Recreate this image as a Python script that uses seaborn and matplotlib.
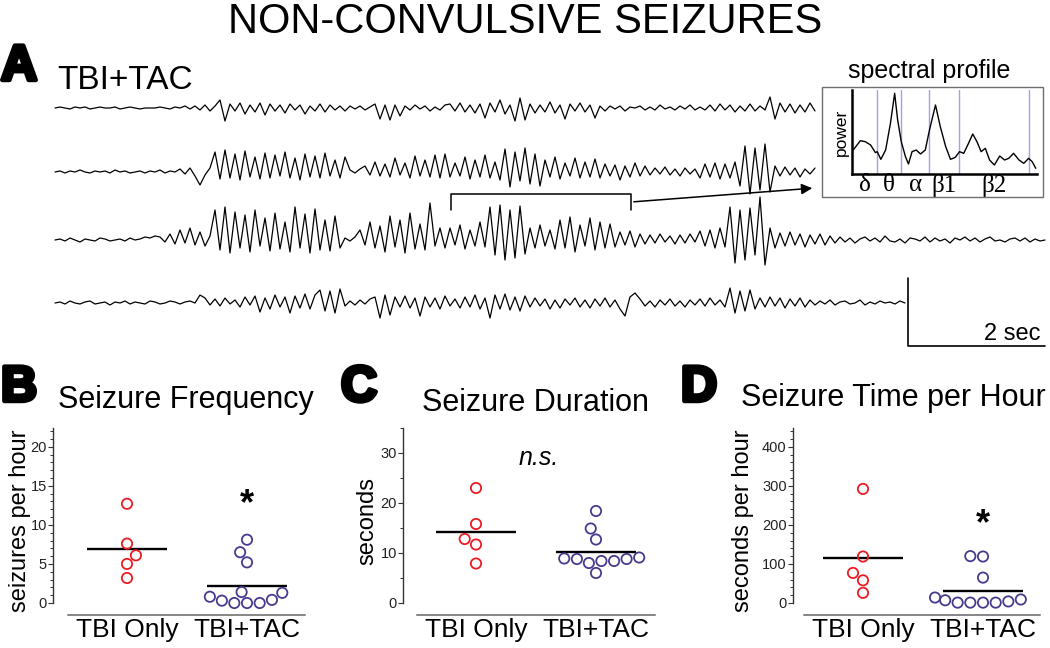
import numpy as np
import pandas as pd
import matplotlib
matplotlib.use("Agg")
import matplotlib.pyplot as plt
import seaborn as sns
from matplotlib.patches import Rectangle
from matplotlib.collections import PathCollection
from matplotlib.ticker import MultipleLocator
import matplotlib.patheffects as pe

# ---------------- data ----------------
groups = ["TBI Only", "TBI+TAC"]
group_colors = {"TBI Only": "#ec1c24", "TBI+TAC": "#4a3a8e"}

freq_tbi = [12.7, 7.6, 6.1, 5.0, 3.2]
freq_tac = [8.1, 6.5, 5.2, 1.4, 1.3, 0.8, 0.4, 0.3, 0.0, 0.0, 0.0]
dur_tbi = [23.0, 15.8, 12.8, 11.7, 7.9]
dur_tac = [18.4, 14.9, 12.7, 9.1, 8.9, 8.8, 8.8, 8.4, 8.4, 8.0, 6.0]
tph_tbi = [292, 119, 77, 58, 26]
tph_tac = [120, 119, 65, 14, 9, 7, 4, 1, 1, 1, 1]

spec_freq = [0.2, 1.4, 2.2, 3.1, 3.9, 4.2, 4.8, 5.6, 6.4, 7.1, 7.6, 8.2, 8.9, 9.4,
             10.0, 10.7, 11.4, 12.2, 12.9, 13.9, 14.7, 15.6, 16.4, 17.2, 17.9, 18.6,
             19.4, 20.1, 20.8, 21.5, 22.2, 22.9, 23.7, 24.6, 25.4, 26.1, 26.9, 27.8,
             28.6, 29.4, 30.0, 30.6]
spec_power = [72, 100, 97, 87, 64, 67, 44, 72, 152, 242, 162, 97, 52, 30, 67, 72, 60,
              72, 132, 207, 142, 82, 44, 50, 67, 62, 92, 120, 97, 67, 77, 42, 27, 54,
              42, 47, 62, 42, 32, 47, 37, 17]
band_edges = [0.0, 4.2, 8.2, 12.9, 17.8, 29.4]
band_labels = ["δ", "θ", "α", "β1", "β2"]

eeg_fs = 13.7  # samples per second
trace1 = [0, 1, 0, -1, 1, 0, 1, -1, 0, 1, 0, 0, 1, -1, 0, 1, 0, -1, 0, 0, 0, 1, 0, -1, 1, 0, 2, -1,
          2, -2, 3, -3, 2,
          8, -13,
          4, -3, 5, -6, 3, -4, 5, -7, 4, -3, 3, -5, 4, -2, 3, -6, 2, -3, 4, -4, 3, -2, 2, -3,
          2, -1, 2, -2, 1,
          4, -11, 3, -12, 3, -8,
          2, -2, 3, -1, 2, -3, 1, -2, 3,
          4, -3, 5, -4, 3, -5, 4, -10,
          5, -4, 8, -6, 3, -13, 10, -12, 4, -5, 3, -4, 6, -5, 3, -11, 4, -3, 5, -4, 3, -10, 2, -3,
          2, -1, 2, -3, 1, 0, 2, -2, 1, -2, 3, -1, 1, -2, 2, -1, 3, -2, 1, -2,
          3, -3, 4, -2, 3, -4, 2, -3, 4, -3, 2, -2,
          11, -11,
          5, -4, 4, -5, 3, -4, 5, -3]
trace2 = [0, 1, -1, 1, 0, 2, 0, -1, 1, 0, 1, -1, 2, 0, 1, -1, 0, 1, -1, 1, 0, 2, -1, 1, 0,
          3, -2, 4, -4, -13,
          -3, 4,
          20, -7, 22, -6, 18, -8, 21, -5, 15, -7, 19, -6, 17, -4, 20, -6, 14, -8, 18, -5, 16, -6, 19, -4, 12, -6, 15,
          2, -1, 3,
          6, -3, 10, -4, 8, -5, 14, -3, 9, -6, 16, -4, 12, -5, 17,
          -6, 18, -5, 9, -4, 15, -7, 12, -5, 17, -6, 10,
          -8, 23, -15, 20, -9, 24, -12, 18, -14,
          12, -5, 15, -7, 9, -4, 14, -6, 10, -5, 13,
          -6, 8, -4, 7, -8, 6, -5, 9, -4, 6,
          -3, 4, -2, 5, -3, 3, -4, 4, -2, 3,
          -6, 8, -5, 9, -7, 8, -6, 10,
          -14, 26, -22, 24, -18, 28,
          -20, 6, -4, 5, -3, 4, -5, 3, -2, 4]
trace3 = [0, 1, -1, 2, 0, -2, 1, 0, -1, 2, 1, -1, 0, 1, -1, 2, 0, 1, 3, 2, 4, 3,
          -2, 6, -4, 10, -3, 12, -5, 8, -6, 4,
          30, -10, 33, -13, 28, -8, 25, -12, 30, -6, 22, -11, 27, -9, 18, -12, 33, -8, 26, -13, 31, -10, 20, -11, 24, -8,
          2, -1, 3,
          10, -5, 18, -8, 14, -12, 24, -7, 20, -13, 27, -9,
          16, -10, 37, -6, 12,
          -8, 12, -5, 15, -9, 10, -6, 18, -7,
          33, -15, 35, -20, 30, -18, 34, -14,
          12, -8, 15, -6, 10, -9,
          20, -8, 23, -12, 15, -6, 22, -10, 18, -8, 16, -7,
          8, -5, 9, -7, 6, -4,
          5, -3, 6, -2, 4, -4, 5, -3, 6, -2,
          9, -6, 10, -8, 12, -7,
          33, -23, 30, -20, 32, -15,
          43, -25, 12,
          -8, 7, -6, 8, -5, 6, -7, 5, -4, 6, -5, 4, -3,
          3, -2, 2, -3, 1, 3, -1, 2, -2, 4, -1, -2, 1, -3, 2, 1, -1, 3, -2, 2, -1, 1, -3, 2, 0, 3,
          -1, 2, -2, 1, 3, -1, 0, -2, 1, 2, -1, 2, -2, 1, -1, 0]
trace4 = [0, 1, -1, 2, 0, -1, 1, 2, -1, 0, 1, -2, 1, 0, 2, -1, 1, 0, -1, 2, 1, -1, 0, 2, 1, -1, 1, 2, 0,
          8, 5,
          -2, 4, -3, 5, -1, 3, -4, 6, -2,
          7, -9, 5, -6, 8, -4, 6, -10, 7, -5, 9, -6, 8,
          13, -8, 12, -10, 14,
          -3, 2, -2, 3, -1, 4,
          6, -15, 8, -12,
          6, -4, 7, -5, 5, -13, 6, -4, 5, -6, 7, -3, 4, -5, 6, -4, 8, -6, 5,
          -15, 8, -6, 9, -7, 6, -8, 7,
          -4, 5, -3, 4, -6, 3, -5, 4, -2, 5, -4, 3, -5, 4, -3, 5, -4, 3, -6, -13,
          6, 10, 4, -3, 2, -4,
          3, -2, 4, -3, 2, -4, 3, -2, 4, -3, 5, -2, 3, -4,
          15, -10, 12, -8, 13, -6,
          5, -4, 6, -3, 5, -5, 4, -3, 5, -4, 3, -2,
          2, -1, 3, -2, 1, 2, -1, 0, 3, -2, 1, -1, 2, 0, 1, -1, 2, 0]
traces = [trace1, trace2, trace3, trace4]

# ---------------- layout ----------------
W, H = 1050, 648
sns.set_theme(style="white")
plt.rcParams["font.family"] = ["Liberation Sans", "DejaVu Sans"]
plt.rcParams["text.color"] = "black"
plt.rcParams["axes.labelcolor"] = "black"
plt.rcParams["xtick.color"] = "black"
plt.rcParams["ytick.color"] = "black"

fig = plt.figure(figsize=(W / 100, H / 100), dpi=100)
fig.patch.set_facecolor("white")


def fx(px):
    return px / W


def fy(py):
    return 1 - py / H


# ---- panel A: EEG traces in a full-figure axes (x in seconds, y in pixels) ----
px_per_sec = 68.5
t0_px = 55
axA = fig.add_axes([0, 0, 1, 1], zorder=0)
axA.set_xlim(-t0_px / px_per_sec, (W - t0_px) / px_per_sec)
axA.set_ylim(H, 0)
axA.axis("off")
row_base = [108, 172, 240, 303]
for tr, base in zip(traces, row_base):
    t = np.arange(len(tr)) / eeg_fs
    y = base - np.asarray(tr, dtype=float)
    sns.lineplot(x=t, y=y, ax=axA, color="black", lw=0.9, sort=False, estimator=None)

# bracket + arrow to spectral profile
b0, b1 = (451 - t0_px) / px_per_sec, (631 - t0_px) / px_per_sec
axA.plot([b0, b0, b1, b1], [210, 194, 194, 210], color="black", lw=1.1)
axA.annotate("", xy=((815 - t0_px) / px_per_sec, 188), xytext=(b1, 202),
             arrowprops=dict(arrowstyle="-|>", color="black", lw=1.1, mutation_scale=16))

# 2 sec scale bar
s0 = (908 - t0_px) / px_per_sec
axA.plot([s0, s0, s0 + 2], [278, 346, 346], color="black", lw=1.2)
axA.text(s0 + 1.93, 340, "2 sec", ha="right", va="baseline", fontsize=17, color="black")

# texts
fig.text(fx(525), fy(33), "NON-CONVULSIVE SEIZURES", ha="center", va="baseline", fontsize=30,
         color="black")
heavy = [pe.withStroke(linewidth=3.2, foreground="black")]
for letter, x, yb in [("A", 1, 80), ("B", 1, 401), ("C", 341, 401), ("D", 681, 401)]:
    fig.text(fx(x), fy(yb), letter, ha="left", va="baseline", fontsize=36,
             fontweight="bold", color="black", path_effects=heavy)
fig.text(fx(57), fy(89), "TBI+TAC", ha="left", va="baseline", fontsize=24, color="black")

# ---- spectral profile inset ----
fig.add_artist(Rectangle((fx(822), fy(197)), (1043 - 822) / W, (197 - 87) / H,
                         transform=fig.transFigure, fill=False, ec="#6e6e6e", lw=1))
fig.text(fx(929), fy(78), "spectral profile", ha="center", va="baseline", fontsize=18,
         color="black")
axI = fig.add_axes([fx(852), fy(174), (1037 - 852) / W, (174 - 90) / H])
sns.lineplot(x=spec_freq, y=spec_power, ax=axI, color="black", lw=1.0, sort=False, estimator=None)
for e in band_edges[1:]:
    axI.axvline(e, color="#a99de3", lw=1.0, zorder=0)
axI.set_xlim(0, 30.8)
axI.set_ylim(0, 252)
for s in ["top", "right"]:
    axI.spines[s].set_visible(False)
for s in ["left", "bottom"]:
    axI.spines[s].set_color("black")
    axI.spines[s].set_linewidth(1.8)
centers = [(a + b) / 2 for a, b in zip(band_edges[:-1], band_edges[1:])]
axI.set_xticks(centers)
axI.set_xticklabels(band_labels, fontfamily=["Liberation Serif", "DejaVu Serif"], fontsize=18)
axI.tick_params(axis="x", length=0, pad=0)
axI.set_yticks([])
axI.set_ylabel("power", fontsize=12.5, labelpad=2)
axI.set_xlabel("")
axI.patch.set_alpha(0)


# ---- panels B, C, D ----
def dot_panel(left, right, cat0, ytop, major, minor, tbi, tac, ylabel, ylab_x, title, title_x, title_y):
    ax = fig.add_axes([fx(left), fy(603), (right - left) / W, (603 - 428) / H], zorder=2)
    df = pd.DataFrame({"group": [groups[0]] * len(tbi) + [groups[1]] * len(tac),
                       "value": list(tbi) + list(tac)})
    sns.swarmplot(data=df, x="group", y="value", hue="group", order=groups,
                  palette=group_colors, size=7.4, linewidth=1.3, ax=ax, legend=False)
    for coll in ax.collections:
        if isinstance(coll, PathCollection):
            fc = coll.get_facecolors()
            coll.set_edgecolors(fc)
            coll.set_facecolors("none")
            coll.set_linewidth(1.3)
            coll.set_clip_on(False)
            coll.set_zorder(3)
    for i, vals in enumerate([tbi, tac]):
        ax.hlines(np.mean(vals), i - 0.33, i + 0.33, color="black", lw=1.7, zorder=2)
    spacing = 120
    xl = -(cat0 - left) / spacing
    xr = 1 + (right - (cat0 + spacing)) / spacing
    ax.set_xlim(xl, xr)
    ax.set_ylim(0, ytop)
    ax.set_yticks(np.arange(0, ytop, major))
    ax.yaxis.set_minor_locator(MultipleLocator(minor))
    for s in ["top", "right"]:
        ax.spines[s].set_visible(False)
    ax.spines["left"].set_color("#333333")
    ax.spines["left"].set_linewidth(1.0)
    ax.spines["bottom"].set_position(("outward", 8.6))
    ax.spines["bottom"].set_bounds(-0.49, xr)
    ax.spines["bottom"].set_color("#666666")
    ax.spines["bottom"].set_linewidth(1.1)
    ax.tick_params(axis="y", which="major", left=True, length=3.5, width=0.8, pad=1,
                   labelsize=10.5, labelcolor="#222222", color="#333333")
    ax.tick_params(axis="y", which="minor", left=True, length=2, width=0.7, color="#333333")
    ax.tick_params(axis="x", length=0, pad=2, labelsize=19, labelcolor="black")
    ax.set_xlabel("")
    ax.set_ylabel("")
    ax.patch.set_alpha(0)
    fig.text(fx(ylab_x), fy(521), ylabel, rotation=90, ha="center", va="center", fontsize=17,
             color="black")
    fig.text(fx(title_x), fy(title_y), title, ha="center", va="baseline", fontsize=22,
             color="black")
    return ax


axB = dot_panel(53, 305, 127, 22.4, 5, 1, freq_tbi, freq_tac, "seizures per hour", 20,
                "Seizure Frequency", 186, 408)
axB.text(1, 11.4, "*", ha="center", va="baseline", fontsize=26, fontweight="bold", color="black")

axC = dot_panel(403, 655, 476, 35, 10, 5, dur_tbi, dur_tac, "seconds", 367,
                "Seizure Duration", 536, 411)
axC.text(0.52, 27.6, "n.s.", ha="center", va="baseline", fontsize=18, style="italic",
         color="black")

axD = dot_panel(793, 1040, 863, 448, 100, 20, tph_tbi, tph_tac, "seconds per hour", 743,
                "Seizure Time per Hour", 893, 406)
axD.text(1, 177, "*", ha="center", va="baseline", fontsize=26, fontweight="bold", color="black")

fig.savefig("out.png", dpi=100, facecolor="white")
